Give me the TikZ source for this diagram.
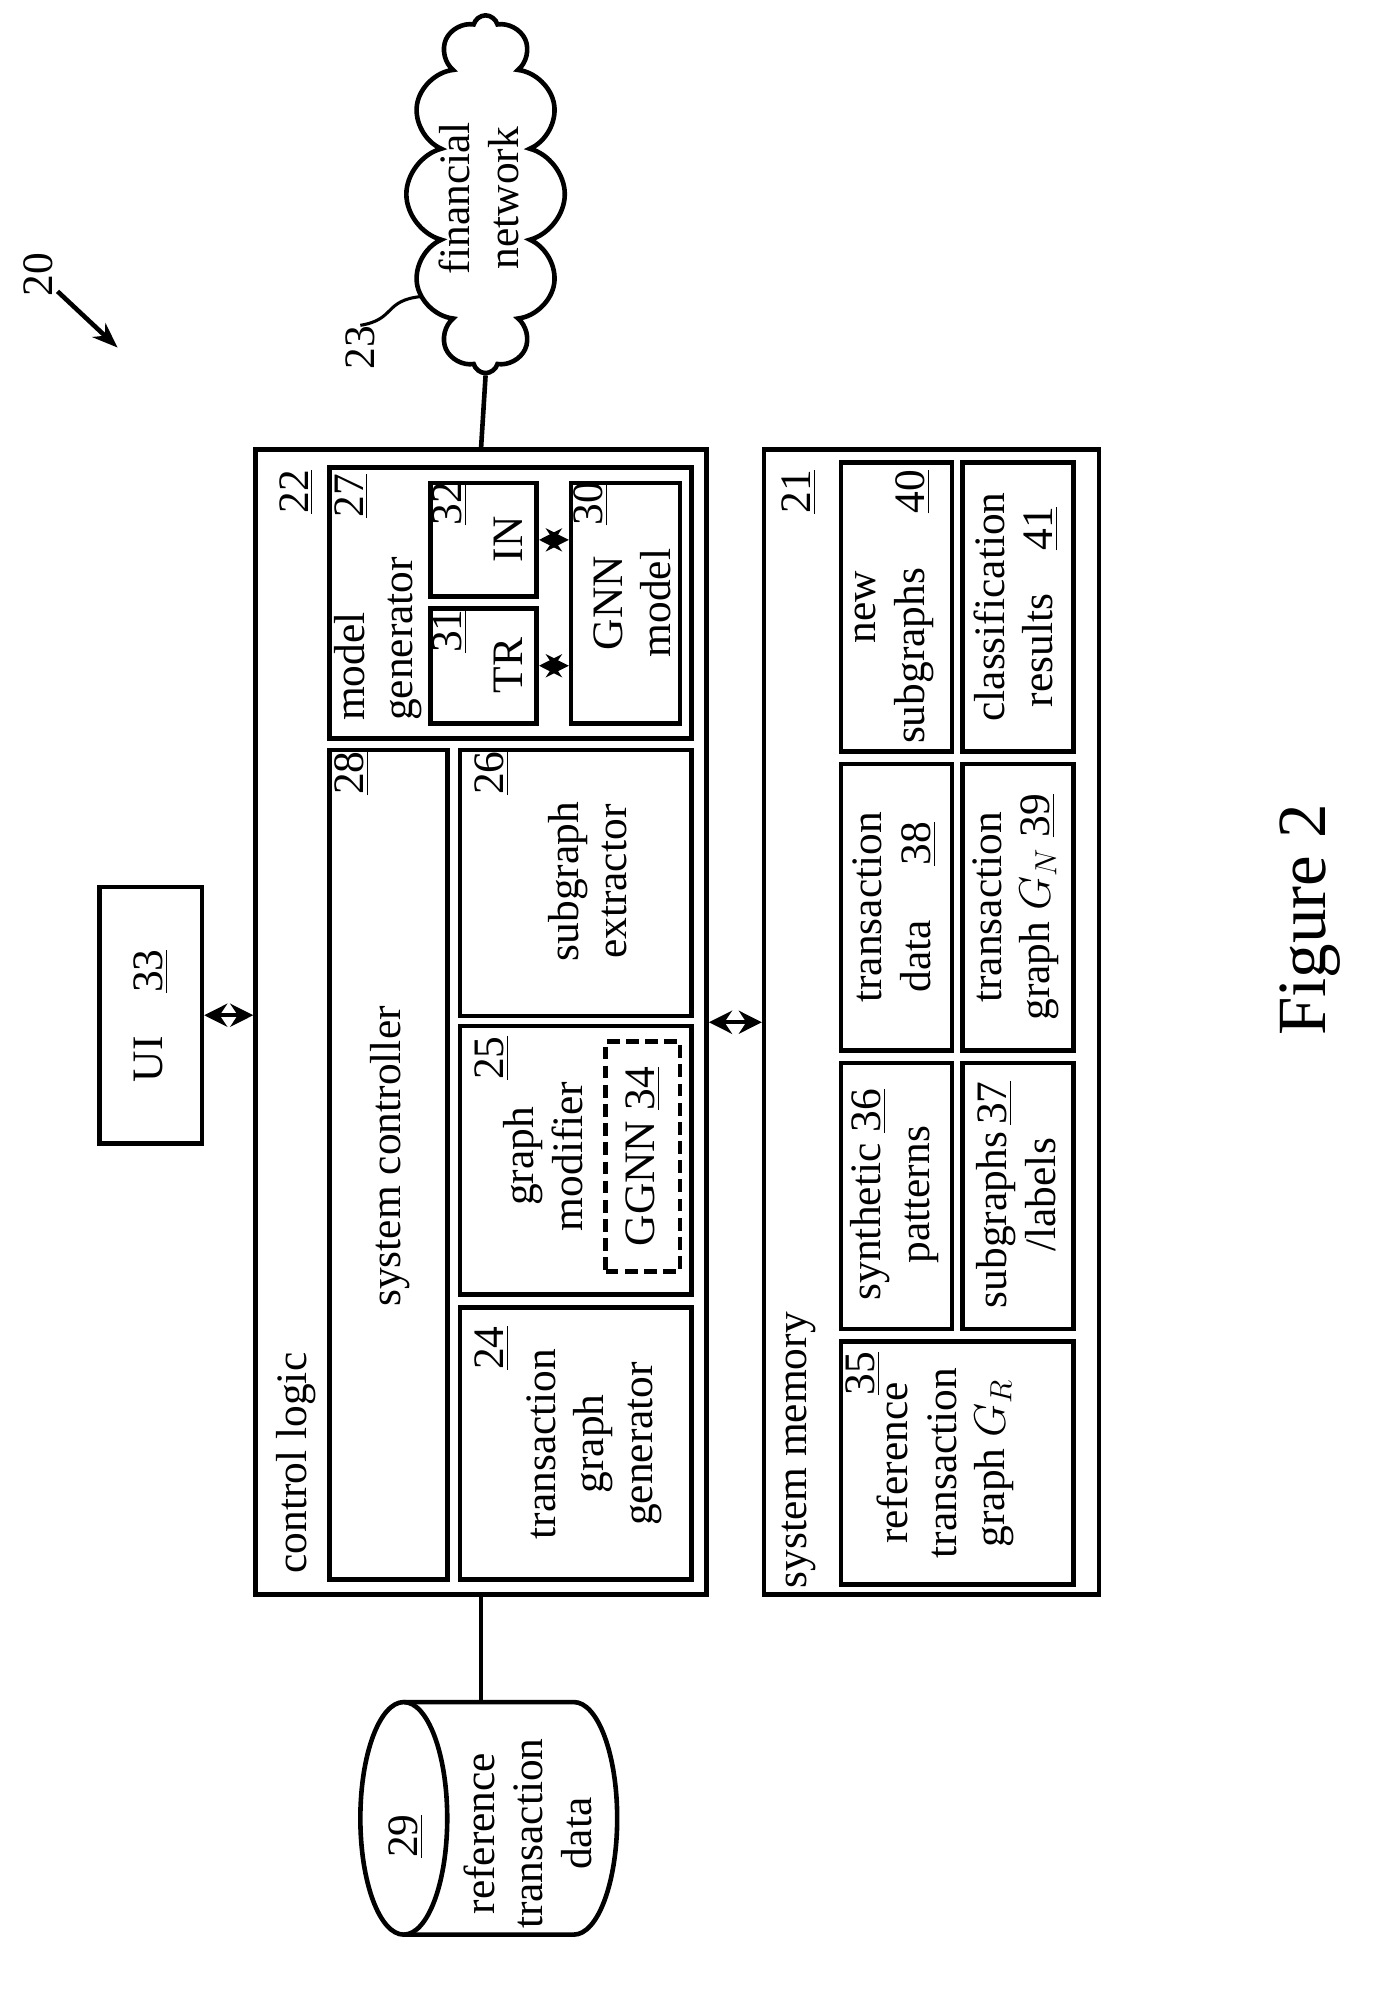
\documentclass[tikz,border=0pt]{standalone}
\usepackage{fontspec}
\setmainfont{Liberation Serif}
\usetikzlibrary{fit,shapes.symbols,arrows.meta}
\newcommand{\un}[1]{\underline{#1}}
\tikzset{
  box/.style={draw, line width=1.8pt, inner sep=0pt},
  lbl/.style={rotate=90, align=center, font=\fontsize{17}{19}\selectfont, inner sep=0pt},
  dbl/.style={{Stealth[length=9pt,width=9pt]}-{Stealth[length=9pt,width=9pt]}, line width=1.6pt},
}
\begin{document}
\begin{tikzpicture}[x=0.5pt, y=-0.5pt]
  \useasboundingbox (0,0) rectangle (1080,1573);
  % outer blocks
  \node[box, fit={(200,352)(553,1248)}] (cl) {};
  \node[box, fit={(598,352)(860,1248)}] (mem) {};
  \node[box, fit={(78,694)(158,895)}] (ui) {};
  % control logic content
  \node[box, fit={(258,366)(541,578)}] (mg) {};
  \node[box, fit={(337,476)(420,566)}] (tr) {};
  \node[box, fit={(337,378)(420,467)}] (in) {};
  \node[box, fit={(447,378)(532,566)}] (gnn) {};
  \node[box, fit={(258,587)(350,1236)}] (sc) {};
  \node[box, fit={(360,587)(541,795)}] (se) {};
  \node[box, fit={(360,803)(541,1013)}] (gm) {};
  \node[box, dash pattern=on 5pt off 2.5pt, fit={(474,815)(532,995)}] (ggnn) {};
  \node[box, fit={(360,1023)(541,1236)}] (tg) {};
  % memory content
  \node[box, fit={(658,1050)(840,1240)}] (rtg) {};
  \node[box, fit={(658,832)(745,1040)}] (syn) {};
  \node[box, fit={(753,832)(840,1040)}] (sub) {};
  \node[box, fit={(658,598)(745,822)}] (td) {};
  \node[box, fit={(753,598)(840,822)}] (gn) {};
  \node[box, fit={(658,362)(745,588)}] (ns) {};
  \node[box, fit={(753,362)(840,588)}] (cr) {};
  % database
  \coordinate (db) at (382,1332);
  \draw[line width=1.8pt] (316,1423) ellipse [x radius=34, y radius=91];
  \draw[line width=1.8pt] (316,1332) -- (449,1332) arc [start angle=-90, end angle=90, x radius=34, y radius=91] -- (316,1514);
  \node[draw, line width=1.8pt, cloud, cloud puffs=12, aspect=0.45,
        minimum width=62pt, minimum height=140pt, inner sep=0pt] (net) at (380,152) {};
  % texts
  \node[lbl] at (232,1145) {control logic};
  \node[lbl] at (232,385) {\un{22}};
  \node[lbl] at (625,1135) {system memory};
  \node[lbl] at (625,385) {\un{21}};
  \node[lbl] at (118,795) {UI\quad\un{33}};
  \node[lbl, align=left] at (296,500) {model\\generator};
  \node[lbl] at (275,388) {\un{27}};
  \node[lbl] at (352,494) {\un{31}};
  \node[lbl] at (398,521) {TR};
  \node[lbl] at (352,394) {\un{32}};
  \node[lbl] at (398,422) {IN};
  \node[lbl] at (462,394) {\un{30}};
  \node[lbl] at (495,472) {GNN\\model};
  \node[lbl] at (305,905) {system controller};
  \node[lbl] at (275,605) {\un{28}};
  \node[lbl] at (460,690) {subgraph\\extractor};
  \node[lbl] at (385,605) {\un{26}};
  \node[lbl] at (425,905) {graph\\modifier};
  \node[lbl] at (385,828) {\un{25}};
  \node[lbl] at (503,905) {GGNN \un{34}};
  \node[lbl] at (465,1130) {transaction\\graph\\generator};
  \node[lbl] at (385,1055) {\un{24}};
  \node[lbl] at (740,1145) {reference\\transaction\\graph $G_R$};
  \node[lbl] at (675,1075) {\un{35}};
  \node[lbl] at (700,935) {synthetic \un{36}\\patterns};
  \node[lbl] at (795,935) {subgraphs\,\un{37}\\/labels};
  \node[lbl] at (700,710) {transaction\\data\quad\ \un{38}};
  \node[lbl] at (795,710) {transaction\\graph $G_N$ \un{39}};
  \node[lbl] at (700,475) {new\\subgraphs\quad\ \un{40}};
  \node[lbl] at (795,475) {classification\\results\quad\un{41}};
  \node[lbl] at (318,1437) {\un{29}};
  \node[lbl] at (413,1435) {reference\\transaction\\data};
  \node[lbl] at (375,155) {financial\\network};
  \node[lbl] (n23) at (282,272) {23};
  \node[lbl] (n20) at (30,215) {20};
  \node[rotate=90, font=\fontsize{27}{30}\selectfont] at (1025,720) {Figure 2};
  % connectors
  \draw[dbl] (ui.east) -- (ui.east -| cl.west);
  \draw[dbl] (cl.east) -- (cl.east -| mem.west);
  \draw[dbl] (tr.east) -- (tr.east -| gnn.west);
  \draw[dbl] (in.east) -- (in.east -| gnn.west);
  \draw[line width=1.8pt] (cl.south) -- (cl.south |- db);
  \draw[line width=1.8pt] (cl.north) -- (net.south);
  \draw[line width=1.2pt] (n23.east) .. controls (310,250) and (300,235) .. (330,232);
  \draw[-{Stealth[length=10pt]}, line width=1.8pt] (45,228) -- (92,272);
\end{tikzpicture}
\end{document}
